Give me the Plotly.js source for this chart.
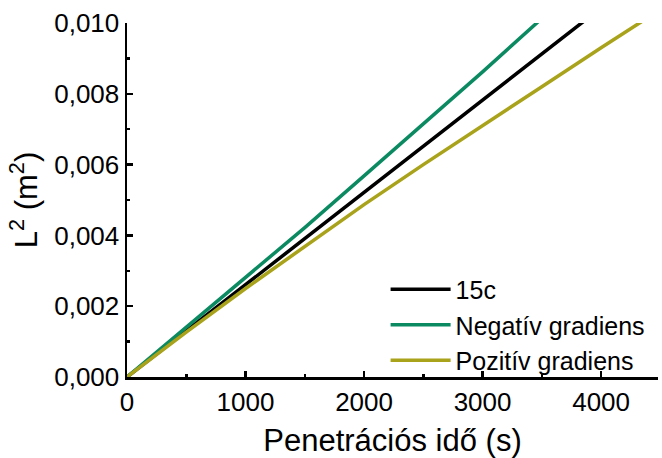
<!DOCTYPE html>
<html>
<head>
<meta charset="utf-8">
<script src="https://cdn.plot.ly/plotly-3.0.1.min.js"></script>
<style>html,body{margin:0;padding:0;background:#fff;}#chart{width:662px;height:458px;}</style>
</head>
<body>
<div id="chart"></div>
<script>
// Data
var time_s = [0, 500, 1000, 1500, 2000, 2500, 3000, 3500, 4000, 4500];
var series_names = ["15c", "Negatív gradiens", "Pozitív gradiens"];
var L2_15c = [0, 0.00130, 0.00260, 0.00391, 0.00522, 0.00653, 0.00783, 0.00913, 0.01043, 0.01174];
var L2_negativ = [0, 0.00140, 0.00280, 0.00422, 0.00568, 0.00715, 0.00862, 0.01013, 0.01165, 0.01317];
var L2_pozitiv = [0, 0.00127, 0.00250, 0.00370, 0.00487, 0.00600, 0.00711, 0.00820, 0.00930, 0.01038];
var xTickVals = [0, 1000, 2000, 3000, 4000];
var yTickVals = [0, 0.002, 0.004, 0.006, 0.008, 0.010];

var colors = ["#000000", "#0b8a62", "#a9a21b"];
var ys = [L2_15c, L2_negativ, L2_pozitiv];
var traces = ys.map(function (y, i) {
  return {x: time_s, y: y, name: series_names[i], type: "scatter", mode: "lines",
          line: {color: colors[i], width: 3.5}};
});

var FONT = "Liberation Sans, Arial, sans-serif";
var layout = {
  width: 662, height: 458,
  margin: {l: 127, r: 4, t: 23, b: 81},
  paper_bgcolor: "#fff", plot_bgcolor: "#fff",
  separators: ", ",
  font: {family: FONT, color: "#000", size: 26},
  showlegend: true,
  legend: {x: 0.487, y: 0.312, xanchor: "left", yanchor: "top", bgcolor: "rgba(0,0,0,0)",
           font: {family: FONT, size: 25, color: "#000"}, itemwidth: 60, tracegroupgap: 0},
  xaxis: {
    range: [0, 4480], tickvals: xTickVals, ticks: "inside", ticklen: 6, tickwidth: 2.5,
    tickcolor: "#000", showline: true, linecolor: "#000", linewidth: 2.5, showgrid: false,
    zeroline: false, tickfont: {family: FONT, size: 26},
    minor: {dtick: 500, ticks: "inside", ticklen: 3, tickwidth: 2.5, tickcolor: "#000", showgrid: false},
    title: {text: "Penetrációs idő (s)", font: {family: FONT, size: 31}, standoff: 14}
  },
  yaxis: {
    range: [0, 0.010], tickvals: yTickVals, tickformat: ".3f", ticks: "inside", ticklen: 6, tickwidth: 2.5,
    tickcolor: "#000", showline: true, linecolor: "#000", linewidth: 2.5, showgrid: false,
    zeroline: false, tickfont: {family: FONT, size: 26},
    minor: {dtick: 0.001, ticks: "inside", ticklen: 3, tickwidth: 2.5, tickcolor: "#000", showgrid: false},
    title: {text: "L<sup>2</sup> (m<sup>2</sup>)", font: {family: FONT, size: 31}, standoff: 8}
  }
};
Plotly.newPlot("chart", traces, layout, {displayModeBar: false, staticPlot: true});
</script>
</body>
</html>
